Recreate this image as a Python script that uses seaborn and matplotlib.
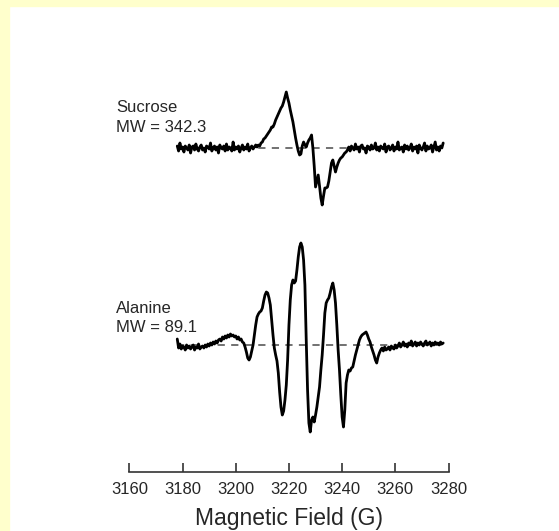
import matplotlib
matplotlib.use("Agg")
import matplotlib.pyplot as plt
import seaborn as sns
from matplotlib.patches import Rectangle

sns.set_style("white")
plt.rcParams["font.family"] = ["Liberation Sans", "DejaVu Sans"]

# magnetic field grid (G), shared by both spectra
field = [
    3178.0, 3178.5, 3179.0, 3179.5, 3180.0, 3180.5, 3181.0, 3181.5, 3182.0, 3182.5,
    3183.0, 3183.5, 3184.0, 3184.5, 3185.0, 3185.5, 3186.0, 3186.5, 3187.0, 3187.5,
    3188.0, 3188.5, 3189.0, 3189.5, 3190.0, 3190.5, 3191.0, 3191.5, 3192.0, 3192.5,
    3193.0, 3193.5, 3194.0, 3194.5, 3195.0, 3195.5, 3196.0, 3196.5, 3197.0, 3197.5,
    3198.0, 3198.5, 3199.0, 3199.5, 3200.0, 3200.5, 3201.0, 3201.5, 3202.0, 3202.5,
    3203.0, 3203.5, 3204.0, 3204.5, 3205.0, 3205.5, 3206.0, 3206.5, 3207.0, 3207.5,
    3208.0, 3208.5, 3209.0, 3209.5, 3210.0, 3210.5, 3211.0, 3211.5, 3212.0, 3212.5,
    3213.0, 3213.5, 3214.0, 3214.5, 3215.0, 3215.5, 3216.0, 3216.5, 3217.0, 3217.5,
    3218.0, 3218.5, 3219.0, 3219.5, 3220.0, 3220.5, 3221.0, 3221.5, 3222.0, 3222.5,
    3223.0, 3223.5, 3224.0, 3224.5, 3225.0, 3225.5, 3226.0, 3226.5, 3227.0, 3227.5,
    3228.0, 3228.5, 3229.0, 3229.5, 3230.0, 3230.5, 3231.0, 3231.5, 3232.0, 3232.5,
    3233.0, 3233.5, 3234.0, 3234.5, 3235.0, 3235.5, 3236.0, 3236.5, 3237.0, 3237.5,
    3238.0, 3238.5, 3239.0, 3239.5, 3240.0, 3240.5, 3241.0, 3241.5, 3242.0, 3242.5,
    3243.0, 3243.5, 3244.0, 3244.5, 3245.0, 3245.5, 3246.0, 3246.5, 3247.0, 3247.5,
    3248.0, 3248.5, 3249.0, 3249.5, 3250.0, 3250.5, 3251.0, 3251.5, 3252.0, 3252.5,
    3253.0, 3253.5, 3254.0, 3254.5, 3255.0, 3255.5, 3256.0, 3256.5, 3257.0, 3257.5,
    3258.0, 3258.5, 3259.0, 3259.5, 3260.0, 3260.5, 3261.0, 3261.5, 3262.0, 3262.5,
    3263.0, 3263.5, 3264.0, 3264.5, 3265.0, 3265.5, 3266.0, 3266.5, 3267.0, 3267.5,
    3268.0, 3268.5, 3269.0, 3269.5, 3270.0, 3270.5, 3271.0, 3271.5, 3272.0, 3272.5,
    3273.0, 3273.5, 3274.0, 3274.5, 3275.0, 3275.5, 3276.0, 3276.5, 3277.0, 3277.5,
    3278.0,
]

# EPR signal, arbitrary units
sucrose_signal = [
    2, -3, 5, -1, 1, -4, 2, 0, -2, 3,
    -5, 1, 2, -2, 4, -1, -3, 1, 3, -2,
    0, -4, 2, 1, -1, 5, -3, 0, 2, -2,
    1, -5, 3, 0, -1, 2, -3, 4, -2, 1,
    0, -3, 6, -2, 1, -1, 2, -4, 0, 3,
    -2, 1, -1, 4, -3, 0, 2, -1, 1, 3,
    1, 3, 2, 5, 6, 9, 10, 12, 14, 16,
    18, 21, 21, 24, 28, 31, 34, 37, 40, 42,
    46, 51, 56, 50, 45, 38, 32, 26, 18, 10,
    3, -3, -7, -6, 2, 6, 3, 1, 5, 8,
    10, 13, 0, -18, -39, -33, -27, -38, -50, -57,
    -48, -40, -40, -39, -33, -24, -15, -12, -18, -24,
    -19, -15, -12, -10, -9, -7, -5, -4, -2, 1,
    -3, 2, 0, -2, 4, -1, 1, -4, 2, 3,
    -1, 0, -5, 2, 1, -2, 3, -1, 0, 5,
    -2, 1, -3, 2, 0, -1, 4, -4, 1, 2,
    -2, 0, 3, -3, 1, -1, 6, -2, 0, 1,
    -4, 3, -1, 2, -2, 0, 4, -3, 1, -1,
    2, -5, 3, 0, -2, 1, 5, -3, 2, -1,
    0, 3, -4, 1, 6, -2, 1, -3, 2, 0,
    5,
]

alanine_signal = [
    6, -3, 1, -4, -1, -2, -5, 0, -3, -1,
    -4, -2, 0, -5, -2, -3, 1, -4, -2, -1,
    -3, 0, -2, 1, -1, 2, 0, 3, 1, 4,
    2, 5, 6, 4, 8, 6, 9, 7, 10, 8,
    11, 9, 10, 8, 9, 6, 8, 5, 6, 3,
    2, -2, -7, -13, -15, -12, -6, 0, 10, 20,
    28, 31, 33, 34, 37, 44, 50, 53, 52, 47,
    40, 25, 10, -3, -10, -16, -28, -47, -62, -70,
    -66, -55, -40, -15, 20, 45, 60, 65, 62, 64,
    75, 88, 98, 102, 98, 85, 60, 5, -45, -78,
    -87, -75, -72, -77, -70, -62, -52, -42, -25, -10,
    10, 32, 42, 45, 47, 52, 58, 62, 55, 42,
    20, -5, -25, -50, -72, -82, -65, -38, -30, -25,
    -26, -23, -22, -16, -10, -5, 0, 5, 8, 10,
    11, 12, 13, 10, 6, 3, -2, -6, -10, -15,
    -18, -12, -8, -5, -3, -6, -2, -5, -4, -2,
    -5, -1, -3, -4, 0, -3, -1, 2, -2, 0,
    3, -1, 1, -2, 2, 0, 4, -1, 1, 3,
    -1, 2, 0, 3, 1, -1, 2, 4, 0, 1,
    3, -1, 2, 0, 3, 1, 2, 0, 3, 1,
    2,
]

sample_names = ["Sucrose", "Alanine"]
sample_mw = ["342.3", "89.1"]
field_ticks = [3160, 3180, 3200, 3220, 3240, 3260, 3280]

# vertical stacking of the two spectra
offsets = [324, 127]
label_y = [360, 159]

fig = plt.figure(figsize=(5.59, 5.31), dpi=100)
fig.patch.set_facecolor("white")
fig.patches.append(Rectangle((0, 0), 9 / 559, 1, transform=fig.transFigure,
                             color="#ffffcc", zorder=0))
fig.patches.append(Rectangle((0, 1 - 6 / 531), 1, 6 / 531, transform=fig.transFigure,
                             color="#ffffcc", zorder=0))

ax = fig.add_axes([129.4 / 559, 59 / 531, 319.1 / 559, 432 / 531])
ax.set_facecolor("none")

for signal, off, name, mw, ly in zip([sucrose_signal, alanine_signal], offsets,
                                     sample_names, sample_mw, label_y):
    ax.plot([field[0], field[-1]], [off, off], color="#666666", lw=1.3,
            dashes=(4, 3.5), zorder=1)
    sns.lineplot(x=field, y=[s + off for s in signal], ax=ax, color="black",
                 lw=2.0, sort=False, estimator=None, zorder=2)
    ax.text(3155.0, ly, name, fontsize=12, va="baseline", ha="left", clip_on=False)
    ax.text(3155.0, ly - 19.5, f"MW = {mw}", fontsize=12, va="baseline",
            ha="left", clip_on=False)

ax.set_xlim(3160, 3280)
ax.set_ylim(0, 432)
ax.set_xticks(field_ticks)
ax.set_yticks([])
for side in ["top", "left", "right"]:
    ax.spines[side].set_visible(False)
ax.spines["bottom"].set_color("#333333")
ax.spines["bottom"].set_linewidth(1.2)
ax.tick_params(axis="x", direction="in", length=6.5, width=1.2, color="#333333",
               pad=7.5, labelsize=12, bottom=True)
ax.set_xlabel("Magnetic Field (G)", fontsize=16.5, labelpad=7)

fig.savefig("out.png", dpi=100)
